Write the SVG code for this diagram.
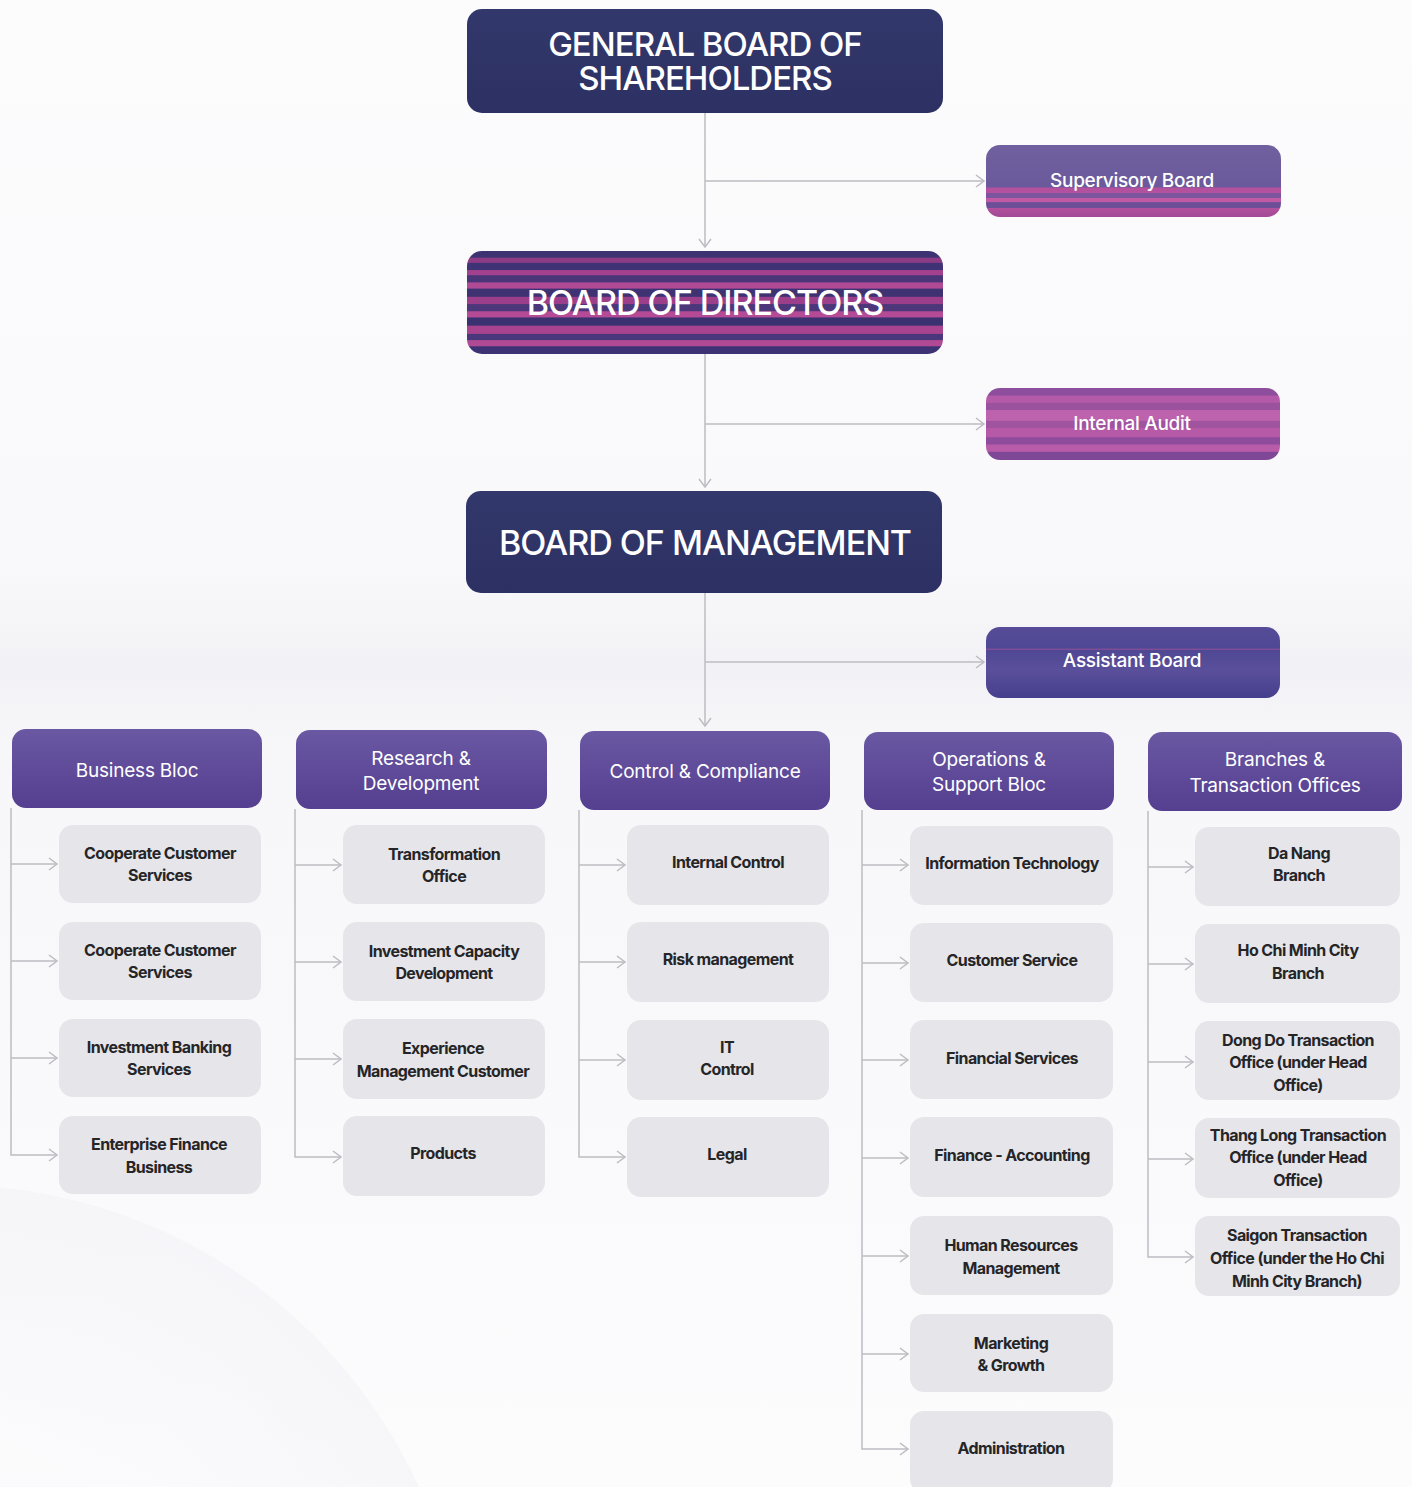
<svg xmlns="http://www.w3.org/2000/svg" width="1412" height="1487" viewBox="0 0 1412 1487">
  <defs>
    <style>
      .top-title { font-family: Inter, "Liberation Sans", sans-serif; font-weight: 500; fill: #ffffff; text-anchor: middle; letter-spacing: -1px; }
      .side-label { font-family: Inter, "Liberation Sans", sans-serif; font-weight: 500; font-size: 19px; fill: #ffffff; text-anchor: middle; letter-spacing: -0.3px; }
      .head-label { font-family: Inter, "Liberation Sans", sans-serif; font-weight: 400; font-size: 19px; fill: #ffffff; text-anchor: middle; letter-spacing: -0.2px; }
      .unit-label { font-family: Inter, "Liberation Sans", sans-serif; font-weight: 700; font-size: 16px; fill: #252528; text-anchor: middle; letter-spacing: -0.6px; }
      .unit { fill: #e6e5ea; }
      .head { fill: url(#headFill); }
      .link { fill: none; stroke: #bcbcc2; stroke-width: 1.5; }
    </style>
    <marker id="chev" markerUnits="userSpaceOnUse" markerWidth="12" markerHeight="16" refX="9" refY="7" orient="auto">
      <path d="M1,1 L9,7 L1,13" fill="none" stroke="#bcbcc2" stroke-width="1.5"/>
    </marker>
    <linearGradient id="navyFill" x1="0" y1="0" x2="0" y2="1">
      <stop offset="0" stop-color="#33386c"/>
      <stop offset="1" stop-color="#2c3062"/>
    </linearGradient>
    <linearGradient id="headFill" x1="0" y1="0" x2="0" y2="1">
      <stop offset="0" stop-color="#6a58a3"/>
      <stop offset="1" stop-color="#553f90"/>
    </linearGradient>
    <linearGradient id="assistFill" x1="0" y1="0" x2="0" y2="1">
      <stop offset="0" stop-color="#564c98"/>
      <stop offset="0.3" stop-color="#4f4894"/>
      <stop offset="0.31" stop-color="#9a4f98"/>
      <stop offset="0.33" stop-color="#4f4894"/>
      <stop offset="0.6" stop-color="#5a4f9a"/>
      <stop offset="1" stop-color="#463f8d"/>
    </linearGradient>
    <linearGradient id="superFill" x1="0" y1="0" x2="0" y2="1">
      <stop offset="0" stop-color="#70609f"/>
      <stop offset="0.58" stop-color="#6a5a9c"/>
      <stop offset="0.6" stop-color="#b4519e"/>
      <stop offset="0.66" stop-color="#b4519e"/>
      <stop offset="0.67" stop-color="#7b569e"/>
      <stop offset="0.73" stop-color="#7b569e"/>
      <stop offset="0.74" stop-color="#c05aa4"/>
      <stop offset="0.79" stop-color="#c05aa4"/>
      <stop offset="0.8" stop-color="#6d4f98"/>
      <stop offset="0.87" stop-color="#6d4f98"/>
      <stop offset="0.88" stop-color="#b2509c"/>
      <stop offset="1" stop-color="#a24a96"/>
    </linearGradient>
    <linearGradient id="directorFill" x1="0" y1="0" x2="0" y2="1">
      <stop offset="0" stop-color="#3d3272"/>
      <stop offset="0.06" stop-color="#3d3272"/>
      <stop offset="0.07" stop-color="#8e3b86"/>
      <stop offset="0.11" stop-color="#8e3b86"/>
      <stop offset="0.12" stop-color="#3f3375"/>
      <stop offset="0.18" stop-color="#3f3375"/>
      <stop offset="0.19" stop-color="#a4418e"/>
      <stop offset="0.23" stop-color="#a4418e"/>
      <stop offset="0.24" stop-color="#4a3579"/>
      <stop offset="0.3" stop-color="#4a3579"/>
      <stop offset="0.31" stop-color="#b04a95"/>
      <stop offset="0.36" stop-color="#b04a95"/>
      <stop offset="0.37" stop-color="#3e3273"/>
      <stop offset="0.44" stop-color="#3e3273"/>
      <stop offset="0.45" stop-color="#9c3f8b"/>
      <stop offset="0.51" stop-color="#9c3f8b"/>
      <stop offset="0.52" stop-color="#4c377b"/>
      <stop offset="0.58" stop-color="#4c377b"/>
      <stop offset="0.59" stop-color="#b54b96"/>
      <stop offset="0.64" stop-color="#b54b96"/>
      <stop offset="0.65" stop-color="#3b3171"/>
      <stop offset="0.72" stop-color="#3b3171"/>
      <stop offset="0.73" stop-color="#a8448f"/>
      <stop offset="0.8" stop-color="#a8448f"/>
      <stop offset="0.81" stop-color="#4a367a"/>
      <stop offset="0.86" stop-color="#4a367a"/>
      <stop offset="0.87" stop-color="#b04a94"/>
      <stop offset="0.92" stop-color="#b04a94"/>
      <stop offset="0.93" stop-color="#3d3273"/>
      <stop offset="1" stop-color="#3d3273"/>
    </linearGradient>
    <linearGradient id="auditFill" x1="0" y1="0" x2="0" y2="1">
      <stop offset="0" stop-color="#8e4e9e"/>
      <stop offset="0.1" stop-color="#8e4e9e"/>
      <stop offset="0.11" stop-color="#b35aa8"/>
      <stop offset="0.2" stop-color="#b35aa8"/>
      <stop offset="0.21" stop-color="#9a529f"/>
      <stop offset="0.3" stop-color="#9a529f"/>
      <stop offset="0.31" stop-color="#bd62ad"/>
      <stop offset="0.45" stop-color="#bd62ad"/>
      <stop offset="0.46" stop-color="#a0549f"/>
      <stop offset="0.55" stop-color="#a0549f"/>
      <stop offset="0.56" stop-color="#b65aa8"/>
      <stop offset="0.68" stop-color="#b65aa8"/>
      <stop offset="0.69" stop-color="#8f4c9c"/>
      <stop offset="0.78" stop-color="#8f4c9c"/>
      <stop offset="0.79" stop-color="#b85ca9"/>
      <stop offset="0.88" stop-color="#b85ca9"/>
      <stop offset="0.89" stop-color="#7f4896"/>
      <stop offset="1" stop-color="#7f4896"/>
    </linearGradient>
    <linearGradient id="bgFill" x1="0" y1="0" x2="0" y2="1">
      <stop offset="0" stop-color="#fcfcfd"/>
      <stop offset="0.38" stop-color="#f9f9fb"/>
      <stop offset="0.45" stop-color="#f2f2f6"/>
      <stop offset="0.5" stop-color="#f7f7fa"/>
      <stop offset="1" stop-color="#fcfcfd"/>
    </linearGradient>
    <radialGradient id="arcFill" cx="-50" cy="1700" r="515" gradientUnits="userSpaceOnUse">
      <stop offset="0.5" stop-color="#f6f6f9" stop-opacity="0.2"/>
      <stop offset="1" stop-color="#f2f2f7" stop-opacity="0.55"/>
    </radialGradient>
  </defs>

  <!-- page background -->
  <rect x="0" y="0" width="1412" height="1487" fill="url(#bgFill)"/>
  <circle cx="-50" cy="1700" r="515" fill="url(#arcFill)"/>

  <!-- connectors -->
  <g id="connectors">
    <path class="link" d="M705,113 V247" marker-end="url(#chev)"/>
    <path class="link" d="M705,354 V487" marker-end="url(#chev)"/>
    <path class="link" d="M705,593 V726" marker-end="url(#chev)"/>
    <path class="link" d="M705,181 H984" marker-end="url(#chev)"/>
    <path class="link" d="M705,424 H984" marker-end="url(#chev)"/>
    <path class="link" d="M705,662 H984" marker-end="url(#chev)"/>

    <!-- Business Bloc -->
    <path class="link" d="M11,808 V1155 H57" marker-end="url(#chev)"/>
    <path class="link" d="M11,864 H57" marker-end="url(#chev)"/>
    <path class="link" d="M11,961 H57" marker-end="url(#chev)"/>
    <path class="link" d="M11,1058 H57" marker-end="url(#chev)"/>

    <!-- Research & Development -->
    <path class="link" d="M295,809 V1157 H341" marker-end="url(#chev)"/>
    <path class="link" d="M295,865 H341" marker-end="url(#chev)"/>
    <path class="link" d="M295,962 H341" marker-end="url(#chev)"/>
    <path class="link" d="M295,1059 H341" marker-end="url(#chev)"/>

    <!-- Control & Compliance -->
    <path class="link" d="M579,810 V1157 H625" marker-end="url(#chev)"/>
    <path class="link" d="M579,865 H625" marker-end="url(#chev)"/>
    <path class="link" d="M579,962 H625" marker-end="url(#chev)"/>
    <path class="link" d="M579,1060 H625" marker-end="url(#chev)"/>

    <!-- Operations & Support Bloc -->
    <path class="link" d="M862,810 V1449 H908" marker-end="url(#chev)"/>
    <path class="link" d="M862,865 H908" marker-end="url(#chev)"/>
    <path class="link" d="M862,963 H908" marker-end="url(#chev)"/>
    <path class="link" d="M862,1060 H908" marker-end="url(#chev)"/>
    <path class="link" d="M862,1158 H908" marker-end="url(#chev)"/>
    <path class="link" d="M862,1256 H908" marker-end="url(#chev)"/>
    <path class="link" d="M862,1354 H908" marker-end="url(#chev)"/>

    <!-- Branches & Transaction Offices -->
    <path class="link" d="M1148,811 V1257 H1193" marker-end="url(#chev)"/>
    <path class="link" d="M1148,867 H1193" marker-end="url(#chev)"/>
    <path class="link" d="M1148,964 H1193" marker-end="url(#chev)"/>
    <path class="link" d="M1148,1062 H1193" marker-end="url(#chev)"/>
    <path class="link" d="M1148,1159 H1193" marker-end="url(#chev)"/>
  </g>

  <!-- governing bodies -->
  <g id="general-board">
    <rect x="467" y="9" width="476" height="104" rx="15" fill="url(#navyFill)"/>
    <text class="top-title" font-size="33" letter-spacing="-0.7"><tspan x="705" y="56">GENERAL BOARD OF</tspan><tspan x="705" y="90">SHAREHOLDERS</tspan></text>
  </g>
  <g id="supervisory-board">
    <rect x="986" y="145" width="295" height="72" rx="14" fill="url(#superFill)"/>
    <text class="side-label" x="1132" y="187">Supervisory Board</text>
  </g>
  <g id="board-of-directors">
    <rect x="467" y="251" width="476" height="103" rx="15" fill="url(#directorFill)"/>
    <text class="top-title" x="705" y="315" font-size="34">BOARD OF DIRECTORS</text>
  </g>
  <g id="internal-audit">
    <rect x="986" y="388" width="294" height="72" rx="14" fill="url(#auditFill)"/>
    <text class="side-label" x="1132" y="430" font-weight="700">Internal Audit</text>
  </g>
  <g id="board-of-management">
    <rect x="466" y="491" width="476" height="102" rx="15" fill="url(#navyFill)"/>
    <text class="top-title" x="705" y="555" font-size="34">BOARD OF MANAGEMENT</text>
  </g>
  <g id="assistant-board">
    <rect x="986" y="627" width="294" height="71" rx="14" fill="url(#assistFill)"/>
    <text class="side-label" x="1132" y="667">Assistant Board</text>
  </g>

  <!-- Business Bloc -->
  <g id="business-bloc">
    <rect class="head" x="12" y="729" width="250" height="79" rx="14"/>
    <text class="head-label" x="137" y="777">Business Bloc</text>
  </g>
  <g id="corporate-services-1">
    <rect class="unit" x="59" y="825" width="202" height="78" rx="14"/>
    <text class="unit-label" x="160" y="859">Cooperate Customer</text>
    <text class="unit-label" x="160" y="881">Services</text>
  </g>
  <g id="corporate-services-2">
    <rect class="unit" x="59" y="922" width="202" height="78" rx="14"/>
    <text class="unit-label" x="160" y="956">Cooperate Customer</text>
    <text class="unit-label" x="160" y="978">Services</text>
  </g>
  <g id="investment-banking">
    <rect class="unit" x="59" y="1019" width="202" height="78" rx="14"/>
    <text class="unit-label" x="159" y="1053">Investment Banking</text>
    <text class="unit-label" x="159" y="1075">Services</text>
  </g>
  <g id="enterprise-finance">
    <rect class="unit" x="59" y="1116" width="202" height="78" rx="14"/>
    <text class="unit-label" x="159" y="1150">Enterprise Finance</text>
    <text class="unit-label" x="159" y="1173">Business</text>
  </g>

  <!-- Research & Development -->
  <g id="research-development">
    <rect class="head" x="296" y="730" width="251" height="79" rx="14"/>
    <text class="head-label" x="421" y="765">Research &amp;</text>
    <text class="head-label" x="421" y="790">Development</text>
  </g>
  <g id="transformation-office">
    <rect class="unit" x="343" y="825" width="202" height="79" rx="14"/>
    <text class="unit-label" x="444" y="860">Transformation</text>
    <text class="unit-label" x="444" y="882">Office</text>
  </g>
  <g id="investment-capacity">
    <rect class="unit" x="343" y="922" width="202" height="79" rx="14"/>
    <text class="unit-label" x="444" y="957">Investment Capacity</text>
    <text class="unit-label" x="444" y="979">Development</text>
  </g>
  <g id="experience-management">
    <rect class="unit" x="343" y="1019" width="202" height="80" rx="14"/>
    <text class="unit-label" x="443" y="1054">Experience</text>
    <text class="unit-label" x="443" y="1077">Management Customer</text>
  </g>
  <g id="products">
    <rect class="unit" x="343" y="1116" width="202" height="80" rx="14"/>
    <text class="unit-label" x="443" y="1159">Products</text>
  </g>

  <!-- Control & Compliance -->
  <g id="control-compliance">
    <rect class="head" x="580" y="731" width="250" height="79" rx="14"/>
    <text class="head-label" x="705" y="778">Control &amp; Compliance</text>
  </g>
  <g id="internal-control">
    <rect class="unit" x="627" y="825" width="202" height="80" rx="14"/>
    <text class="unit-label" x="728" y="868">Internal Control</text>
  </g>
  <g id="risk-management">
    <rect class="unit" x="627" y="922" width="202" height="80" rx="14"/>
    <text class="unit-label" x="728" y="965">Risk management</text>
  </g>
  <g id="it-control">
    <rect class="unit" x="627" y="1020" width="202" height="80" rx="14"/>
    <text class="unit-label" x="727" y="1053">IT</text>
    <text class="unit-label" x="727" y="1075">Control</text>
  </g>
  <g id="legal">
    <rect class="unit" x="627" y="1117" width="202" height="80" rx="14"/>
    <text class="unit-label" x="727" y="1160">Legal</text>
  </g>

  <!-- Operations & Support Bloc -->
  <g id="operations-support">
    <rect class="head" x="864" y="732" width="250" height="78" rx="14"/>
    <text class="head-label" x="989" y="766">Operations &amp;</text>
    <text class="head-label" x="989" y="791">Support Bloc</text>
  </g>
  <g id="information-technology">
    <rect class="unit" x="910" y="826" width="203" height="79" rx="14"/>
    <text class="unit-label" x="1012" y="869">Information Technology</text>
  </g>
  <g id="customer-service">
    <rect class="unit" x="910" y="923" width="203" height="79" rx="14"/>
    <text class="unit-label" x="1012" y="966">Customer Service</text>
  </g>
  <g id="financial-services">
    <rect class="unit" x="910" y="1020" width="203" height="79" rx="14"/>
    <text class="unit-label" x="1012" y="1064">Financial Services</text>
  </g>
  <g id="finance-accounting">
    <rect class="unit" x="910" y="1117" width="203" height="80" rx="14"/>
    <text class="unit-label" x="1012" y="1161">Finance - Accounting</text>
  </g>
  <g id="human-resources">
    <rect class="unit" x="910" y="1216" width="203" height="79" rx="14"/>
    <text class="unit-label" x="1011" y="1251">Human Resources</text>
    <text class="unit-label" x="1011" y="1274">Management</text>
  </g>
  <g id="marketing-growth">
    <rect class="unit" x="910" y="1314" width="203" height="78" rx="14"/>
    <text class="unit-label" x="1011" y="1349">Marketing</text>
    <text class="unit-label" x="1011" y="1371">&amp; Growth</text>
  </g>
  <g id="administration">
    <rect class="unit" x="910" y="1411" width="203" height="82" rx="14"/>
    <text class="unit-label" x="1011" y="1454">Administration</text>
  </g>

  <!-- Branches & Transaction Offices -->
  <g id="branches-offices">
    <rect class="head" x="1148" y="732" width="254" height="79" rx="14"/>
    <text class="head-label" x="1275" y="766">Branches &amp;</text>
    <text class="head-label" x="1275" y="792">Transaction Offices</text>
  </g>
  <g id="da-nang-branch">
    <rect class="unit" x="1195" y="827" width="205" height="79" rx="14"/>
    <text class="unit-label" x="1299" y="859">Da Nang</text>
    <text class="unit-label" x="1299" y="881">Branch</text>
  </g>
  <g id="hcmc-branch">
    <rect class="unit" x="1195" y="924" width="205" height="79" rx="14"/>
    <text class="unit-label" x="1298" y="956">Ho Chi Minh City</text>
    <text class="unit-label" x="1298" y="979">Branch</text>
  </g>
  <g id="dong-do-office">
    <rect class="unit" x="1195" y="1021" width="205" height="79" rx="14"/>
    <text class="unit-label" x="1298" y="1046">Dong Do Transaction</text>
    <text class="unit-label" x="1298" y="1068">Office (under Head</text>
    <text class="unit-label" x="1298" y="1091">Office)</text>
  </g>
  <g id="thang-long-office">
    <rect class="unit" x="1195" y="1118" width="205" height="80" rx="14"/>
    <text class="unit-label" x="1298" y="1141">Thang Long Transaction</text>
    <text class="unit-label" x="1298" y="1163">Office (under Head</text>
    <text class="unit-label" x="1298" y="1186">Office)</text>
  </g>
  <g id="saigon-office">
    <rect class="unit" x="1195" y="1216" width="205" height="80" rx="14"/>
    <text class="unit-label" x="1297" y="1241">Saigon Transaction</text>
    <text class="unit-label" x="1297" y="1264">Office (under the Ho Chi</text>
    <text class="unit-label" x="1297" y="1287">Minh City Branch)</text>
  </g>
</svg>
